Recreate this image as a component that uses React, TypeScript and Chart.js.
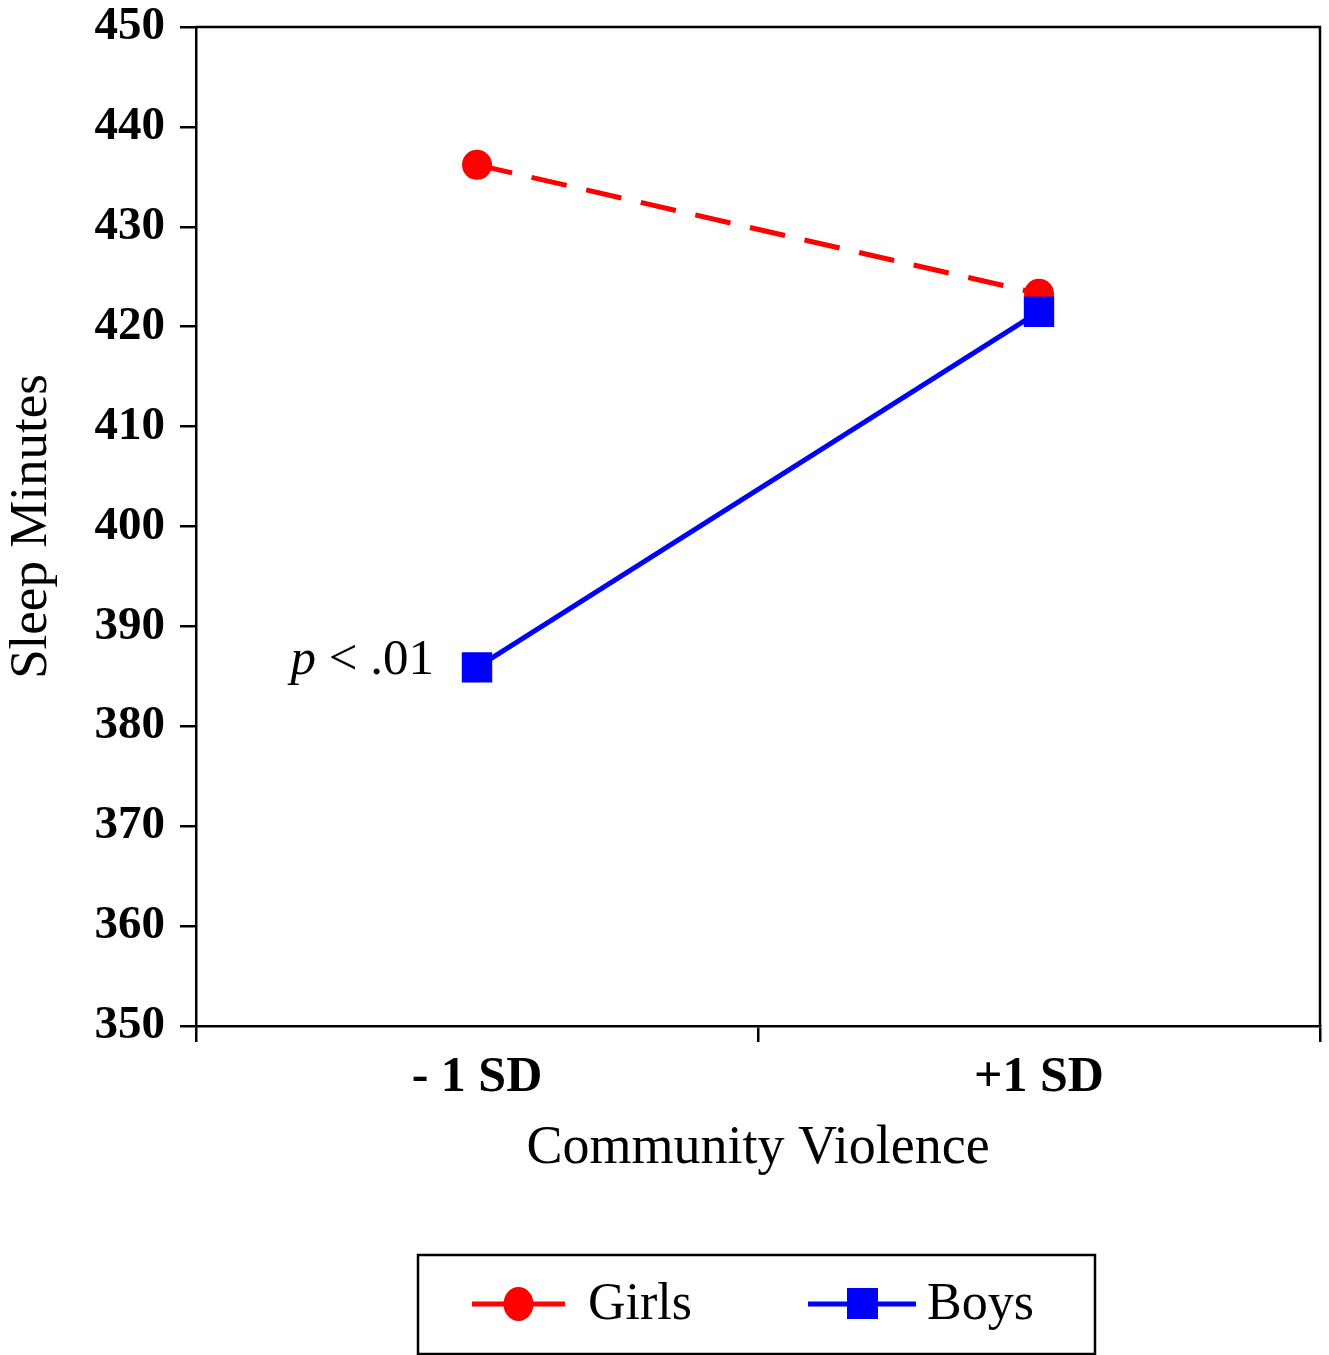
import React, { useEffect, useRef } from "react";
import { Chart, registerables } from "chart.js";

Chart.register(...registerables);

const categories = ["- 1 SD", "+1 SD"];
const girls = [436.2, 423.3];
const boys = [385.9, 421.5];
const yTicks = [350, 360, 370, 380, 390, 400, 410, 420, 430, 440, 450];
const seriesNames = ["Girls", "Boys"];
const annotation = { italic: "p", rest: " < .01" };

const SERIF = '"Liberation Serif", "Times New Roman", serif';

const framePlugin = {
  id: "frame",
  afterDraw(chart: any) {
    const { ctx, chartArea } = chart;
    ctx.save();
    ctx.strokeStyle = "#000";
    ctx.lineWidth = 2.5;
    ctx.beginPath();
    ctx.moveTo(chartArea.left, chartArea.top);
    ctx.lineTo(chartArea.right, chartArea.top);
    ctx.lineTo(chartArea.right, chartArea.bottom);
    ctx.stroke();

    // annotation next to Boys at -1 SD
    const boysIdx = chart.data.datasets.findIndex((d: any) => d.label === "Boys");
    const pt = chart.getDatasetMeta(boysIdx).data[0];
    const rightX = pt.x - 43;
    const y = pt.y - 7;
    ctx.fillStyle = "#000";
    ctx.textBaseline = "middle";
    ctx.textAlign = "right";
    ctx.font = `51px ${SERIF}`;
    ctx.fillText(annotation.rest, rightX, y);
    const w = ctx.measureText(annotation.rest).width;
    ctx.font = `italic 51px ${SERIF}`;
    ctx.fillText(annotation.italic, rightX - w, y);

    // legend box
    const bx = 418, by = 1255, bw = 677, bh = 99;
    ctx.lineWidth = 2.5;
    ctx.strokeStyle = "#000";
    ctx.strokeRect(bx, by, bw, bh);
    const ly = 1304;
    const entries = [
      { x0: 472, x1: 565, tx: 588 },
      { x0: 808, x1: 916, tx: 927 },
    ];
    seriesNames.forEach((name, i) => {
      const ds = chart.data.datasets.find((d: any) => d.label === name);
      const e = entries[i];
      ctx.strokeStyle = ds.borderColor;
      ctx.lineWidth = 5;
      ctx.setLineDash([]);
      ctx.beginPath();
      ctx.moveTo(e.x0, ly);
      ctx.lineTo(e.x1, ly);
      ctx.stroke();
      const cx = (e.x0 + e.x1) / 2;
      ctx.fillStyle = ds.backgroundColor;
      if (ds.pointStyle === "rect") {
        ctx.fillRect(cx - 15, ly - 16, 31, 31);
      } else {
        ctx.beginPath();
        ctx.ellipse(cx, ly, 15, 17, 0, 0, Math.PI * 2);
        ctx.fill();
      }
      ctx.fillStyle = "#000";
      ctx.textAlign = "left";
      ctx.textBaseline = "middle";
      ctx.font = `52px ${SERIF}`;
      ctx.fillText(name, e.tx, ly + 1);
    });
    ctx.restore();
  },
};

export default function App() {
  const ref = useRef<HTMLCanvasElement>(null);

  useEffect(() => {
    document.body.style.margin = "0";
    document.body.style.overflow = "hidden";
    document.documentElement.style.overflow = "hidden";
    const chart = new Chart(ref.current!, {
      type: "line",
      data: {
        labels: categories,
        datasets: [
          {
            label: "Girls",
            data: girls,
            borderColor: "#ff0000",
            backgroundColor: "#ff0000",
            borderWidth: 5,
            borderDash: [36, 20],
            pointStyle: "circle",
            pointRadius: 15,
            pointBorderWidth: 0,
            order: 1,
          },
          {
            label: "Boys",
            data: boys,
            borderColor: "#0000ff",
            backgroundColor: "#0000ff",
            borderWidth: 5,
            pointStyle: "rect",
            pointRadius: 21.5,
            pointBorderWidth: 0,
            order: 0,
          },
        ],
      },
      options: {
        animation: false,
        responsive: true,
        maintainAspectRatio: false,
        layout: { autoPadding: false, padding: { left: 0, right: 9, top: 27, bottom: 0 } },
        plugins: { legend: { display: false }, tooltip: { enabled: false } },
        scales: {
          x: {
            type: "category",
            offset: true,
            grid: {
              offset: true,
              drawOnChartArea: false,
              drawTicks: true,
              tickLength: 16,
              color: "#000",
              lineWidth: 2.5,
            },
            border: { display: true, color: "#000", width: 2.5 },
            ticks: {
              color: "#000",
              padding: 11,
              font: { family: SERIF, size: 50, weight: "bold", lineHeight: 1 },
            },
            title: {
              display: true,
              text: "Community Violence",
              color: "#000",
              font: { family: SERIF, size: 54, lineHeight: 1.2 },
              padding: { top: 0, bottom: 174 },
            },
            afterFit(scale: any) {
              scale.height = 329;
              scale.paddingLeft = 0;
              scale.paddingRight = 0;
              scale.paddingTop = 0;
              scale.paddingBottom = 0;
            },
          },
          y: {
            min: 350,
            max: 450,
            afterBuildTicks(scale: any) {
              scale.ticks = yTicks.map((v) => ({ value: v }));
            },
            grid: {
              drawOnChartArea: false,
              drawTicks: true,
              tickLength: 16,
              color: "#000",
              lineWidth: 2.5,
            },
            border: { display: true, color: "#000", width: 2.5 },
            ticks: {
              color: "#000",
              padding: 15,
              font: { family: SERIF, size: 47, weight: "bold", lineHeight: 1 },
            },
            title: {
              display: true,
              text: "Sleep Minutes",
              color: "#000",
              font: { family: SERIF, size: 53, lineHeight: 1.2 },
              padding: { top: 0, bottom: 0 },
            },
            afterFit(scale: any) {
              scale.width = 196;
              scale.paddingLeft = 0;
              scale.paddingRight = 0;
              scale.paddingTop = 0;
              scale.paddingBottom = 0;
            },
          },
        },
      },
      plugins: [framePlugin],
    });
    return () => chart.destroy();
  }, []);

  return (
    <div style={{ width: 1329, height: 1355, position: "relative", overflow: "hidden" }}>
      <canvas ref={ref} style={{ display: "block" }} />
    </div>
  );
}
